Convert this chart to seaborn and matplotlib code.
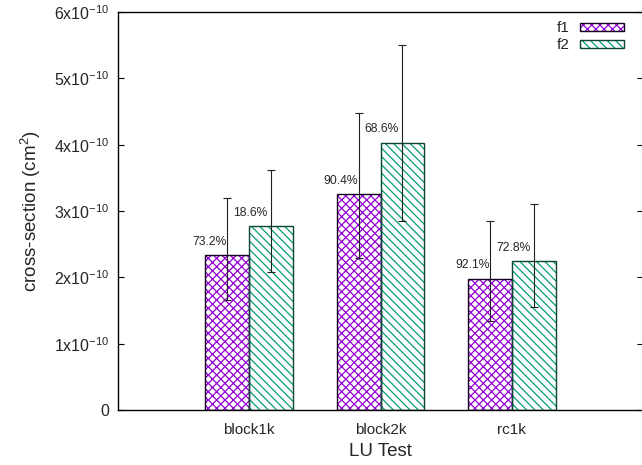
import matplotlib
matplotlib.use("Agg")
import matplotlib.pyplot as plt
from matplotlib.ticker import FuncFormatter, MultipleLocator
from matplotlib.patches import Patch
from matplotlib.legend_handler import HandlerBase
from matplotlib.patches import Rectangle
import seaborn as sns
import pandas as pd
import numpy as np

# Data (cross-section in cm^2)
tests = ["block1k", "block2k", "rc1k"]
f1_vals = [2.34e-10, 3.26e-10, 1.98e-10]
f1_lo = [1.66e-10, 2.29e-10, 1.34e-10]
f1_hi = [3.20e-10, 4.48e-10, 2.85e-10]
f2_vals = [2.77e-10, 4.03e-10, 2.25e-10]
f2_lo = [2.08e-10, 2.85e-10, 1.56e-10]
f2_hi = [3.62e-10, 5.50e-10, 3.11e-10]
f1_pct = ["73.2%", "90.4%", "92.1%"]
f2_pct = ["18.6%", "68.6%", "72.8%"]
series = ["f1", "f2"]

sns.set_theme(style="white")
plt.rcParams["font.family"] = ["Liberation Sans", "DejaVu Sans"]
plt.rcParams["mathtext.fontset"] = "custom"
plt.rcParams["mathtext.rm"] = "Liberation Sans"
plt.rcParams["hatch.linewidth"] = 0.9

df = pd.DataFrame({
    "test": tests * 2,
    "value": f1_vals + f2_vals,
    "series": ["f1"] * 3 + ["f2"] * 3,
})

hatch_colors = {"f1": "#9400d3", "f2": "#009e73"}
edge_colors = {"f1": "#140020", "f2": "#0c4535"}
hatches = {"f1": "xxxx", "f2": "\\\\\\\\"}

fig = plt.figure(figsize=(6.42, 4.65), dpi=100)
ax = fig.add_axes([118 / 642, 55 / 465, 525 / 642, 398 / 465])

# hatched fill layer
sns.barplot(data=df, x="test", y="value", hue="series", order=tests,
            hue_order=series, width=0.67, ax=ax, errorbar=None,
            palette=["white", "white"], legend=False)
n_fill = len(ax.patches)
for i, p in enumerate(list(ax.patches)):
    s = series[i // 3]
    p.set_facecolor("white")
    p.set_hatch(hatches[s])
    p.set_edgecolor(hatch_colors[s])
    p.set_linewidth(0)

# outline layer
sns.barplot(data=df, x="test", y="value", hue="series", order=tests,
            hue_order=series, width=0.67, ax=ax, errorbar=None,
            palette=["white", "white"], legend=False)
for i, p in enumerate(list(ax.patches)[n_fill:]):
    s = series[i // 3]
    p.set_facecolor("none")
    p.set_edgecolor(edge_colors[s])
    p.set_linewidth(1.0)

# error bars at bar centres
x = np.arange(len(tests))
off = 0.67 / 4
for xs, vals, lo, hi in [(x - off, f1_vals, f1_lo, f1_hi), (x + off, f2_vals, f2_lo, f2_hi)]:
    vals = np.array(vals)
    yerr = [vals - np.array(lo), np.array(hi) - vals]
    ax.errorbar(xs, vals, yerr=yerr, fmt="none", ecolor="#222222",
                elinewidth=0.8, capsize=2.6, capthick=0.8)

# percentage labels
for i in range(len(tests)):
    ax.annotate(f1_pct[i], (i - 0.30, f1_vals[i]), xytext=(0, 9.5),
                textcoords="offset points", ha="center", va="center", fontsize=8.7)
    ax.annotate(f2_pct[i], (i + 0.01, f2_vals[i]), xytext=(0, 9.5),
                textcoords="offset points", ha="center", va="center", fontsize=8.7)

ax.set_xlim(-1, 3)
ax.set_ylim(0, 6e-10)
ax.yaxis.set_major_locator(MultipleLocator(1e-10))


def fmt(v, pos):
    n = int(round(v / 1e-10))
    if n == 0:
        return "0"
    return r"$\mathregular{%dx10^{-10}}$" % n


ax.yaxis.set_major_formatter(FuncFormatter(fmt))
ax.tick_params(axis="y", which="major", direction="in", length=4.5, width=0.8,
               left=True, right=True, labelsize=11.5, pad=6, color="black")
ax.tick_params(axis="x", bottom=False, labelsize=11, pad=3)

for sp in ax.spines.values():
    sp.set_color("black")
    sp.set_linewidth(1.0)

ax.set_xlabel("LU Test", fontsize=13.5, labelpad=5)
ax.set_ylabel(r"cross-section (cm$\mathregular{^2}$)", fontsize=13.5, labelpad=8)


class HatchHandler(HandlerBase):
    def create_artists(self, legend, orig_handle, xdescent, ydescent,
                       width, height, fontsize, trans):
        s = orig_handle.get_label()
        fill = Rectangle((-xdescent, -ydescent), width, height, facecolor="white",
                         edgecolor=hatch_colors[s], hatch=hatches[s], linewidth=0,
                         transform=trans)
        edge = Rectangle((-xdescent, -ydescent), width, height, facecolor="none",
                         edgecolor=edge_colors[s], linewidth=1.0, transform=trans)
        return [fill, edge]


handles = [Patch(label=s) for s in series]
ax.legend(handles, series, loc="upper right", frameon=False, markerfirst=False,
          fontsize=11, handlelength=2.9, handleheight=0.45, labelspacing=0.2,
          handletextpad=0.7, borderaxespad=0.2, bbox_to_anchor=(0.982, 1.0),
          handler_map={Patch: HatchHandler()})

fig.savefig("out.png", dpi=100)
